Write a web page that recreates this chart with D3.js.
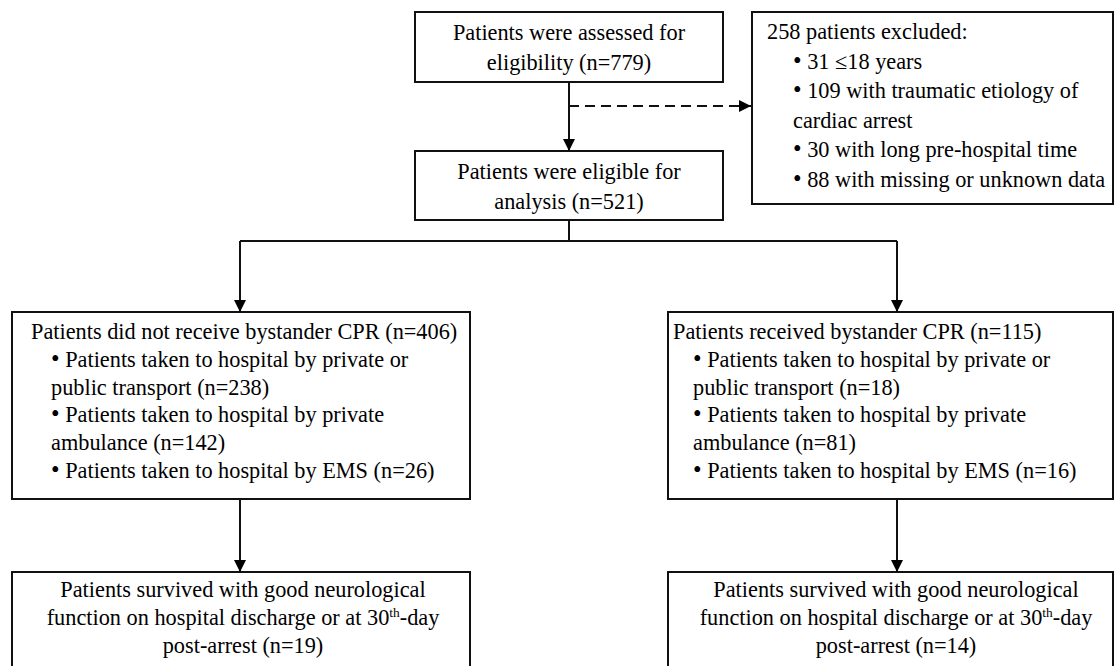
<!DOCTYPE html>
<html>
<head>
<meta charset="utf-8">
<script src="https://cdn.jsdelivr.net/npm/d3@7"></script>
<style>
  body { margin: 0; background: #fff; }
  svg text { font-family: "Liberation Serif", "Times New Roman", serif; fill: #000; }
</style>
</head>
<body>
<div class="flow"></div>
<script>
// counts
var assessedN = 779
var eligibleN = 521
var excludedN = 258
var exclusionCounts = [31, 109, 30, 88]
var exclusionReasons = ["\u226418 years", "with traumatic etiology of", "with long pre-hospital time", "with missing or unknown data"]
var groupNames = ["Patients did not receive bystander CPR", "Patients received bystander CPR"]
var groupN = [406, 115]
var transportN = [[238, 142, 26], [18, 81, 16]]
var survivedN = [19, 14]

function chart() {

    var width = 1114, height = 666

    const svg = d3.select(".flow")
        .append("svg")
        .attr("width", width)
        .attr("height", height)

    svg.append("defs").append("marker")
        .attr("id", "arrow")
        .attr("viewBox", "0 0 10 10")
        .attr("refX", 10)
        .attr("refY", 5)
        .attr("markerWidth", 6)
        .attr("markerHeight", 6.5)
        .attr("markerUnits", "strokeWidth")
        .attr("orient", "auto")
        .append("path")
        .attr("d", "M0,0L10,5L0,10z")
        .attr("fill", "#000")

    var fs = 22.3

    // boxes
    var boxes = [
        {x: 415, y: 12, w: 308, h: 70},
        {x: 415, y: 151, w: 308, h: 69},
        {x: 752, y: 12, w: 361, h: 192},
        {x: 12, y: 312, w: 458, h: 187},
        {x: 668, y: 312, w: 445, h: 187},
        {x: 12, y: 572, w: 458, h: 120},
        {x: 668, y: 572, w: 445, h: 120}
    ]

    svg.selectAll("rect.box")
        .data(boxes)
        .join("rect")
        .attr("class", "box")
        .attr("x", d => d.x)
        .attr("y", d => d.y)
        .attr("width", d => d.w)
        .attr("height", d => d.h)
        .attr("fill", "#fff")
        .attr("stroke", "#111")
        .attr("stroke-width", 2)

    // connectors
    var cx = 569, lx = 240, rx = 897
    var links = [
        {d: `M${cx},82V151`, arrow: true},
        {d: `M${cx},106H751`, arrow: true, dash: true},
        {d: `M${cx},220V241`},
        {d: `M${lx},241H${rx}`},
        {d: `M${lx},241V312`, arrow: true},
        {d: `M${rx},241V312`, arrow: true},
        {d: `M${lx},499V572`, arrow: true},
        {d: `M${rx},499V572`, arrow: true}
    ]

    svg.selectAll("path.link")
        .data(links)
        .join("path")
        .attr("class", "link")
        .attr("d", d => d.d)
        .attr("fill", "none")
        .attr("stroke", "#111")
        .attr("stroke-width", 2)
        .attr("stroke-dasharray", d => d.dash ? "10,6" : null)
        .attr("marker-end", d => d.arrow ? "url(#arrow)" : null)

    // text blocks
    function block(lines, x, y0, step, anchor) {
        var g = svg.append("g")
        lines.forEach(function (l, i) {
            var t = g.append("text")
                .attr("x", x + (l.indent || 0))
                .attr("y", y0 + i * step)
                .attr("font-size", fs)
                .attr("text-anchor", anchor || "start")
            if (l.bullet) {
                t.append("tspan").attr("font-size", fs * 1.1).text("\u2022")
                t.append("tspan").text(" " + l.text)
            } else if (l.sup) {
                t.append("tspan").text(l.text)
                t.append("tspan").attr("font-size", fs * 0.6).attr("dy", -8).text(l.sup)
                t.append("tspan").attr("dy", 8).text(l.after)
            } else {
                t.text(l.text)
            }
        })
    }

    block([{text: "Patients were assessed for"}, {text: `eligibility (n=${assessedN})`}], cx, 40, 30, "middle")
    block([{text: "Patients were eligible for"}, {text: `analysis (n=${eligibleN})`}], cx, 179, 30, "middle")

    block([
        {text: `${excludedN} patients excluded:`},
        {text: exclusionCounts[0] + " " + exclusionReasons[0], indent: 26, bullet: true},
        {text: exclusionCounts[1] + " " + exclusionReasons[1], indent: 26, bullet: true},
        {text: "cardiac arrest", indent: 26},
        {text: exclusionCounts[2] + " " + exclusionReasons[2], indent: 26, bullet: true},
        {text: exclusionCounts[3] + " " + exclusionReasons[3], indent: 26, bullet: true}
    ], 767, 39, 29.6)

    var gx = [31, 673]
    groupNames.forEach(function (name, i) {
        var n = transportN[i]
        block([
            {text: `${name} (n=${groupN[i]})`},
            {text: "Patients taken to hospital by private or", indent: 20, bullet: true},
            {text: `public transport (n=${n[0]})`, indent: 20},
            {text: "Patients taken to hospital by private", indent: 20, bullet: true},
            {text: `ambulance (n=${n[1]})`, indent: 20},
            {text: `Patients taken to hospital by EMS (n=${n[2]})`, indent: 20, bullet: true}
        ], gx[i], 339, 27.8)

        block([
            {text: "Patients survived with good neurological"},
            {text: "function on hospital discharge or at 30", sup: "th", after: "-day"},
            {text: `post-arrest (n=${survivedN[i]})`}
        ], [lx + 3, rx - 1][i], 597, 28, "middle")
    })
}

chart()
</script>
</body>
</html>
